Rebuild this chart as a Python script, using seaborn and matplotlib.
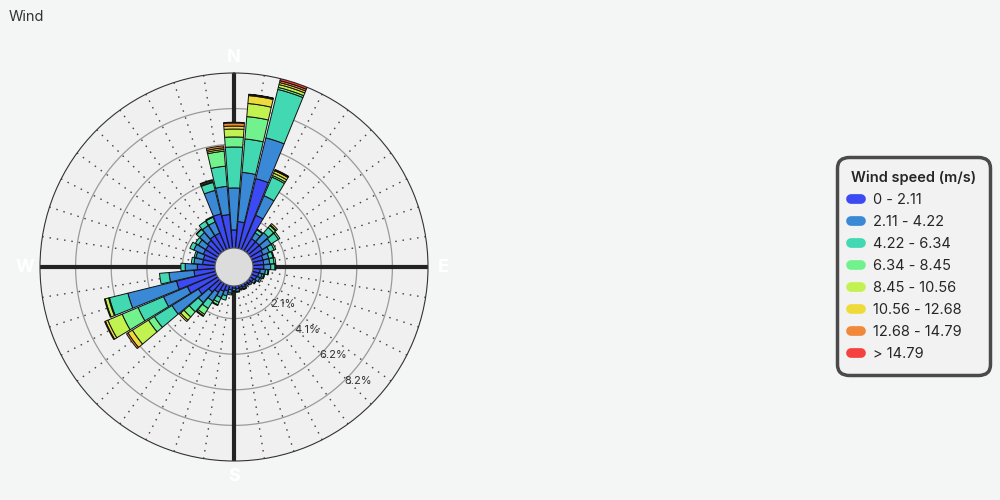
import numpy as np
import matplotlib
matplotlib.use("Agg")
import matplotlib.pyplot as plt
import seaborn as sns
from matplotlib.lines import Line2D
from matplotlib.patches import Circle

# -----------------------------
# DATA (percent of time, per direction sector of 9 degrees)
# -----------------------------
directions = list(range(0, 360, 9))   # 0 = N, clockwise
speed_labels = ["0 - 2.11", "2.11 - 4.22", "4.22 - 6.34", "6.34 - 8.45",
                "8.45 - 10.56", "10.56 - 12.68", "12.68 - 14.79", "> 14.79"]
speed_colors = ["#3b4af3", "#3a89d6", "#42d9b2", "#72f28c",
                "#c2f24f", "#eedb3a", "#f08a3a", "#f5413f"]

spd_0_2 = [1.22, 1.71, 4.34, 2.32, 1.00, 1.00, 1.00, 0.90, 0.80, 0.80,
           0.80, 0.60, 0.55, 0.50, 0.40, 0.35, 0.30, 0.35, 0.30, 0.35,
           0.30, 0.40, 0.50, 0.60, 0.80, 1.00, 1.50, 2.00, 2.50, 1.40,
           1.20, 0.90, 0.90, 1.00, 1.00, 1.10, 1.20, 1.20, 2.24, 2.12]
spd_2_4 = [2.43, 2.86, 2.43, 1.23, 0.40, 0.70, 0.60, 0.40, 0.35, 0.35,
           0.40, 0.30, 0.20, 0.20, 0.15, 0.10, 0.10, 0.10, 0.10, 0.15,
           0.15, 0.20, 0.30, 0.40, 0.60, 0.80, 1.80, 1.50, 2.90, 1.45,
           0.70, 0.50, 0.45, 0.60, 0.50, 0.60, 0.70, 0.70, 1.40, 1.64]
spd_4_6 = [2.37, 1.94, 2.89, 1.17, 0.20, 0.40, 0.50, 0.30, 0.25, 0.25,
           0.25, 0.15, 0.10, 0.10, 0.05, 0.00, 0.00, 0.05, 0.05, 0.05,
           0.05, 0.10, 0.25, 0.30, 0.50, 0.70, 1.20, 1.60, 1.10, 0.55,
           0.25, 0.15, 0.10, 0.25, 0.20, 0.25, 0.30, 0.30, 0.47, 1.17]
spd_6_8 = [0.58, 1.30, 0.12, 0.10, 0.05, 0.15, 0.10, 0.10, 0.05, 0.10,
           0.05, 0.05, 0.05, 0.00, 0.00, 0.00, 0.00, 0.00, 0.00, 0.00,
           0.00, 0.00, 0.00, 0.15, 0.40, 0.40, 0.40, 1.00, 0.05, 0.00,
           0.00, 0.00, 0.00, 0.00, 0.00, 0.02, 0.00, 0.05, 0.05, 0.87]
spd_8_10 = [0.46, 0.76, 0.17, 0.15, 0.00, 0.05, 0.00, 0.00, 0.00, 0.00,
            0.00, 0.00, 0.00, 0.00, 0.00, 0.00, 0.00, 0.00, 0.00, 0.00,
            0.00, 0.00, 0.00, 0.05, 0.10, 0.25, 1.10, 0.90, 0.20, 0.00,
            0.00, 0.00, 0.00, 0.00, 0.00, 0.00, 0.00, 0.00, 0.07, 0.10]
spd_10_12 = [0.17, 0.46, 0.12, 0.15, 0.00, 0.10, 0.00, 0.00, 0.00, 0.00,
             0.00, 0.00, 0.00, 0.00, 0.00, 0.00, 0.00, 0.00, 0.00, 0.00,
             0.00, 0.00, 0.00, 0.00, 0.05, 0.10, 0.30, 0.15, 0.05, 0.00,
             0.00, 0.00, 0.00, 0.00, 0.00, 0.00, 0.00, 0.00, 0.05, 0.10]
spd_12_14 = [0.18, 0.06, 0.11, 0.05, 0.00, 0.00, 0.00, 0.00, 0.00, 0.00,
             0.00, 0.00, 0.00, 0.00, 0.00, 0.00, 0.00, 0.00, 0.00, 0.00,
             0.00, 0.00, 0.00, 0.00, 0.00, 0.00, 0.10, 0.05, 0.00, 0.00,
             0.00, 0.00, 0.00, 0.00, 0.00, 0.00, 0.00, 0.00, 0.00, 0.11]
spd_14_up = [0.04, 0.02, 0.12, 0.03, 0.00, 0.00, 0.00, 0.00, 0.00, 0.00,
             0.00, 0.00, 0.00, 0.00, 0.00, 0.00, 0.00, 0.00, 0.00, 0.00,
             0.00, 0.00, 0.00, 0.00, 0.00, 0.00, 0.00, 0.00, 0.00, 0.00,
             0.00, 0.00, 0.00, 0.00, 0.00, 0.00, 0.00, 0.00, 0.00, 0.00]

speed_series = [spd_0_2, spd_2_4, spd_4_6, spd_6_8,
                spd_8_10, spd_10_12, spd_12_14, spd_14_up]

r_max = 10.3
ring_ticks = [2.06, 4.12, 6.18, 8.24]
cardinals = {"N": 0, "E": 90, "S": 180, "W": 270}

# -----------------------------
# FIGURE
# -----------------------------
sns.set_theme(style="white")
plt.rcParams["font.family"] = ["Inter", "DejaVu Sans"]

fig = plt.figure(figsize=(10, 5), dpi=100, facecolor="#f4f6f5")
ax = fig.add_axes([0.040, 0.078, 0.388, 0.776], projection="polar")
ax.set_theta_zero_location("N")
ax.set_theta_direction(-1)
ax.set_facecolor("#f0f0f0")
ax.set_ylim(0, r_max)
ax.set_rorigin(-r_max * 16 / 178)
ax.grid(False)
ax.set_xticks([])
ax.set_yticks([])
ax.spines["polar"].set_color("#333333")
ax.spines["polar"].set_linewidth(0.8)
ax.spines["inner"].set_visible(False)

# rings + their labels
circle_t = np.linspace(0, 2 * np.pi, 361)
for t in ring_ticks:
    ax.plot(circle_t, np.full_like(circle_t, t), color="#9a9a9a", lw=0.9, zorder=1)
    ax.text(np.radians(136), t, f"{t:.1f}%", fontsize=8,
            color="#333333", ha="left", va="center", zorder=4)

# spokes
theta = np.radians(directions)
for d, th in zip(directions, theta):
    if d % 90 == 0:
        ax.plot([th, th], [0, r_max], color="#222222", lw=3.0, zorder=1.5,
                solid_capstyle="butt")
    else:
        ax.plot([th, th], [0, r_max], color="#444444", lw=1.0,
                linestyle=(0, (1.1, 4.2)), zorder=1.2)

# stacked bars
width = np.radians(9) * 0.92
bottom = np.zeros(len(directions))
for vals, col in zip(speed_series, speed_colors):
    vals = np.array(vals)
    mask = vals > 0
    ax.bar(theta[mask], vals[mask], width=width, bottom=bottom[mask],
           color=col, edgecolor="#111111", linewidth=0.7, zorder=3)
    bottom += vals

# hole in the middle
ax.add_artist(Circle((0.5, 0.5), 19 / 388, transform=ax.transAxes,
                     facecolor="#dcdcdc", edgecolor="#555555", lw=0.8,
                     zorder=5, clip_on=False))

# compass labels
for name, deg in cardinals.items():
    ax.text(np.radians(deg), 11.2, name, color="white", fontsize=13,
            fontweight="bold", ha="center", va="center", clip_on=False)

fig.text(0.009, 0.966, "Wind", fontsize=10.5, color="#333333", va="center")

# legend
handles = [Line2D([0], [0], color=c, lw=7, solid_capstyle="round")
           for c in speed_colors]
leg = fig.legend(handles, speed_labels, title="Wind speed (m/s)",
                 loc="center right", bbox_to_anchor=(0.99, 0.468),
                 borderaxespad=0,
                 fontsize=10.5, title_fontsize=10.5, frameon=True, fancybox=True,
                 facecolor="#f2f2f2", edgecolor="#4a4a4a", framealpha=1,
                 handlelength=0.7, handletextpad=0.8, labelspacing=0.55,
                 borderpad=0.95, alignment="left")
leg.get_frame().set_linewidth(2.5)
leg.get_frame().set_boxstyle("round", pad=0, rounding_size=0.8)
leg.get_title().set_fontweight("semibold")

plt.savefig("out.png", dpi=100, facecolor=fig.get_facecolor())
